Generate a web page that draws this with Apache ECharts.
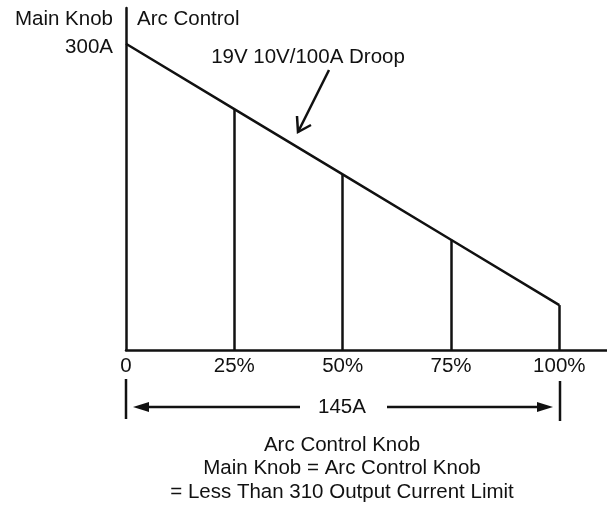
<!DOCTYPE html>
<html>
<head>
<meta charset="utf-8">
<script src="https://cdn.jsdelivr.net/npm/echarts@6/dist/echarts.min.js"></script>
<style>
  html, body { margin: 0; padding: 0; background: #fff; }
  #main { width: 607px; height: 512px; }
</style>
</head>
<body>
<div id="main"></div>
<script>
// arc control setting (%) and output current (A)
var arcPct = [0, 25, 50, 75, 100];
var currentA = [300, 236, 172, 108, 44];
var dropPct = [25, 50, 75, 100];
var tickLabels = ['0', '25%', '50%', '75%', '100%'];
var spanLabel = '145A';

var FONT = "'Liberation Sans', Arial, sans-serif";
var INK = '#111';
var LW = 2.5;

var chart = echarts.init(document.getElementById('main'));

var lineData = arcPct.map(function (p, i) { return [p, currentA[i]]; });

// vertical drop lines from the droop line down to the axis
var drops = dropPct.map(function (p) {
  var v = currentA[arcPct.indexOf(p)];
  return [{ coord: [p, 0] }, { coord: [p, v] }];
});

function txt(x, y, s, align) {
  return {
    type: 'text', x: x, y: y, silent: true,
    style: { text: s, font: '20.5px ' + FONT, fill: INK, align: align || 'left', verticalAlign: 'middle' }
  };
}
function seg(x1, y1, x2, y2) {
  return { type: 'line', silent: true, shape: { x1: x1, y1: y1, x2: x2, y2: y2 }, style: { stroke: INK, lineWidth: LW } };
}

var option = {
  animation: false,
  grid: { left: 126, right: 0, top: 8, bottom: 162 },
  xAxis: {
    type: 'value', min: 0, max: 111, interval: 25,
    axisLine: { lineStyle: { color: INK, width: LW } },
    axisTick: { show: false },
    splitLine: { show: false },
    axisLabel: {
      showMaxLabel: false, margin: 6, fontSize: 20.5, fontFamily: FONT, color: INK,
      formatter: function (v) { var i = arcPct.indexOf(v); return i >= 0 ? tickLabels[i] : ''; }
    }
  },
  yAxis: {
    type: 'value', min: 0, max: 335,
    axisLine: { show: true, lineStyle: { color: INK, width: LW } },
    axisTick: { show: false },
    axisLabel: { show: false },
    splitLine: { show: false }
  },
  series: [{
    type: 'line',
    data: lineData,
    symbol: 'none',
    lineStyle: { color: INK, width: LW },
    markLine: {
      silent: true, symbol: 'none', label: { show: false },
      lineStyle: { color: INK, width: LW, type: 'solid' },
      data: drops
    }
  }],
  graphic: [
    txt(113, 19, 'Main Knob', 'right'),
    txt(113, 47, '300A', 'right'),
    txt(137, 19, 'Arc Control'),
    txt(308, 57, '19V 10V/100A Droop', 'center'),
    // pointer arrow to droop line
    seg(329, 70, 298, 132),
    { type: 'polyline', silent: true, shape: { points: [[297, 116], [298, 132], [311, 125]] }, style: { stroke: INK, lineWidth: LW, fill: null } },
    // 145A span dimension
    seg(126, 379, 126, 419),
    seg(560, 381, 560, 421),
    seg(140, 407, 300, 407),
    seg(387, 407, 545, 407),
    { type: 'polygon', silent: true, shape: { points: [[133, 407], [149, 402], [149, 412]] }, style: { fill: INK } },
    { type: 'polygon', silent: true, shape: { points: [[553, 407], [537, 402], [537, 412]] }, style: { fill: INK } },
    txt(342, 407, spanLabel, 'center'),
    txt(342, 445, 'Arc Control Knob', 'center'),
    txt(342, 468, 'Main Knob = Arc Control Knob', 'center'),
    txt(342, 492, '= Less Than 310 Output Current Limit', 'center')
  ]
};

chart.setOption(option);
</script>
</body>
</html>
